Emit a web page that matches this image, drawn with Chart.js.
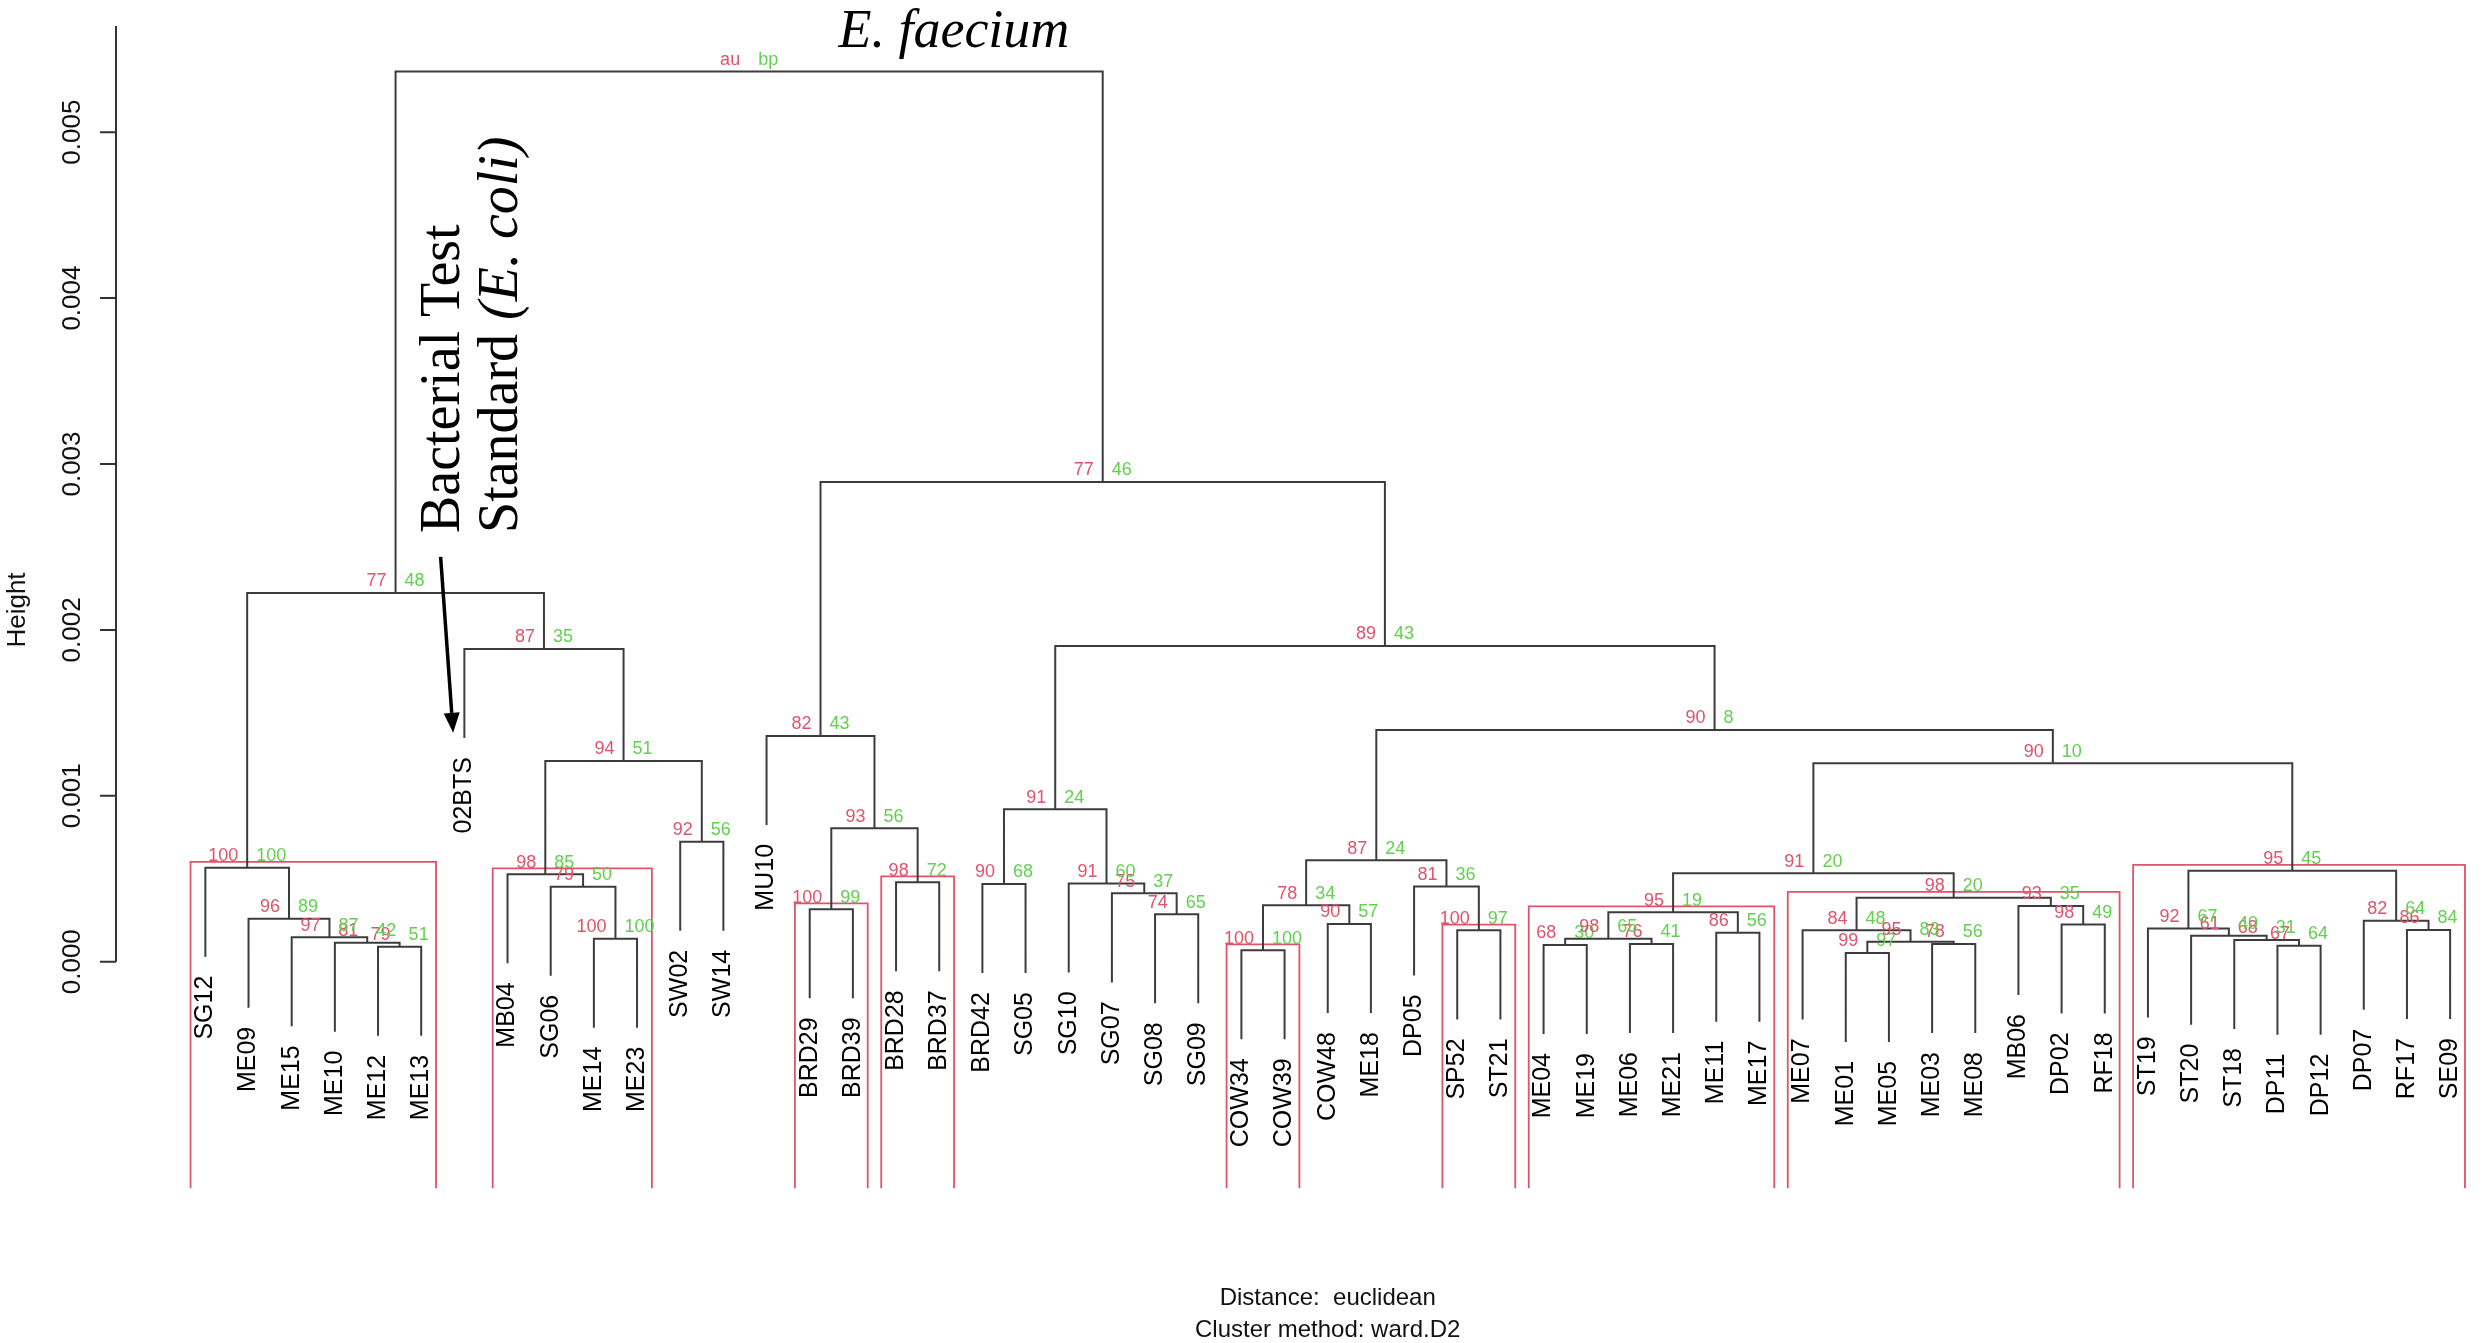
<!DOCTYPE html>
<html lang="en">
<head>
<meta charset="UTF-8">
<title>E. faecium dendrogram</title>
<style>
  html, body { margin: 0; padding: 0; background: #fff; }
</style>
</head>
<body>
<canvas id="myChart" width="2483" height="1343"></canvas>

<script src="https://cdn.jsdelivr.net/npm/chart.js"></script>
<script>
const ctx = document.getElementById('myChart');

// leaves, left to right
const leafNames = ['SG12','ME09','ME15','ME10','ME12','ME13','02BTS','MB04','SG06','ME14','ME23','SW02','SW14','MU10',
  'BRD29','BRD39','BRD28','BRD37','BRD42','SG05','SG10','SG07','SG08','SG09','COW34','COW39','COW48','ME18','DP05',
  'SP52','ST21','ME04','ME19','ME06','ME21','ME11','ME17','ME07','ME01','ME05','ME03','ME08','MB06','DP02','RF18',
  'ST19','ST20','ST18','DP11','DP12','DP07','RF17','SE09'];

// merges: a string is a leaf, a number points to an earlier merge
const merges = [
  ['ME12','ME13'], ['ME10',0], ['ME15',1], ['ME09',2], ['SG12',3],
  ['ME14','ME23'], ['SG06',5], ['MB04',6], ['SW02','SW14'], [7,8], ['02BTS',9], [4,10],
  ['BRD29','BRD39'], ['BRD28','BRD37'], [12,13], ['MU10',14],
  ['BRD42','SG05'], ['SG08','SG09'], ['SG07',17], ['SG10',18], [16,19],
  ['COW34','COW39'], ['COW48','ME18'], [21,22], ['SP52','ST21'], ['DP05',24], [23,25],
  ['ME04','ME19'], ['ME06','ME21'], [27,28], ['ME11','ME17'], [29,30],
  ['ME01','ME05'], ['ME03','ME08'], [32,33], ['ME07',34], ['DP02','RF18'], ['MB06',36], [35,37], [31,38],
  ['DP11','DP12'], ['ST18',40], ['ST20',41], ['ST19',42], ['RF17','SE09'], ['DP07',44], [43,45],
  [39,46], [26,47], [20,48], [15,49], [11,50]
];

// merge heights
const heights = [
  0.000090, 0.000115, 0.000147, 0.000259, 0.000567,
  0.000139, 0.000452, 0.000527, 0.000723, 0.001210, 0.001885, 0.002222,
  0.000316, 0.000479, 0.000804, 0.001361,
  0.000468, 0.000286, 0.000412, 0.000472, 0.000919,
  0.000069, 0.000227, 0.000340, 0.000189, 0.000454, 0.000611,
  0.000101, 0.000107, 0.000139, 0.000175, 0.000298,
  0.000053, 0.000107, 0.000121, 0.000189, 0.000225, 0.000336, 0.000386, 0.000533,
  0.000097, 0.000131, 0.000157, 0.000201, 0.000191, 0.000247, 0.000549,
  0.001196, 0.001397, 0.001903, 0.002891, 0.005366
];

// approximately unbiased p-values
const auValues = [
  79, 81, 97, 96, 100,
  100, 79, 98, 92, 94, 87, 77,
  100, 98, 93, 82,
  90, 74, 75, 91, 91,
  100, 90, 78, 100, 81, 87,
  68, 76, 98, 86, 95,
  99, 78, 95, 84, 98, 93, 98, 91,
  67, 68, 61, 92, 86, 82, 95,
  90, 90, 89, 77, 'au'
];

// bootstrap probabilities
const bpValues = [
  51, 42, 87, 89, 100,
  100, 50, 85, 56, 51, 35, 48,
  99, 72, 56, 43,
  68, 65, 37, 60, 24,
  100, 57, 34, 97, 36, 24,
  30, 41, 65, 56, 19,
  97, 56, 83, 48, 49, 35, 20, 20,
  64, 31, 40, 67, 84, 64, 45,
  10, 8, 43, 46, 'bp'
];

const yTicks = [0, 0.001, 0.002, 0.003, 0.004, 0.005];
const subTitle = ['Distance:  euclidean', 'Cluster method: ward.D2'];
const auAlpha = 95;

const xMin = -2.07, xMax = 52.53;
const yMin = -0.0014, yMax = 0.00564;

const RED = '#DF536B';
const GREEN = '#61D04F';
const SANS = '"Liberation Sans", Arial, sans-serif';
const SERIF = '"Liberation Serif", "Times New Roman", serif';

// ---- tree layout from the merges ----
const leafIndex = {};
leafNames.forEach((n, i) => { leafIndex[n] = i; });
const hang = 0.1 * Math.max(...heights);
const nodeX = [];
const members = [];
const leafEnd = [];
const edgePoints = [];

merges.forEach((m, k) => {
  const h = heights[k];
  const ends = m.map(c => {
    if (typeof c === 'string') {
      const i = leafIndex[c];
      leafEnd[i] = h - hang;
      return { x: i, y: h - hang, mem: [i] };
    }
    return { x: nodeX[c], y: heights[c], mem: members[c] };
  });
  nodeX[k] = (ends[0].x + ends[1].x) / 2;
  members[k] = ends[0].mem.concat(ends[1].mem);
  edgePoints.push(
    { x: ends[0].x, y: ends[0].y },
    { x: ends[0].x, y: h },
    { x: ends[1].x, y: h },
    { x: ends[1].x, y: ends[1].y },
    { x: ends[1].x, y: null }
  );
});

// pvrect-like boxes: highest clusters with au >= alpha
const rectPoints = [];
const covered = new Set();
const mx = (xMax - xMin) / leafNames.length / 3;
const my = (yMax - yMin) / 200;
for (let k = merges.length - 2; k >= 0; k--) {
  if (typeof auValues[k] === 'number' && auValues[k] >= auAlpha) {
    const mem = members[k];
    if (!mem.some(i => covered.has(i))) {
      const xl = Math.min(...mem) - mx, xr = Math.max(...mem) + mx;
      const yb = yMin + my, yt = heights[k] + my;
      rectPoints.push({ x: xl, y: yb }, { x: xl, y: yt }, { x: xr, y: yt }, { x: xr, y: yb }, { x: xr, y: null });
    }
    mem.forEach(i => covered.add(i));
  }
}

// annotations, in data units
const faeciumPos = { x: 17.34, y: 0.005513 };
const btsLine1 = { x: 5.88, y: 0.002584 };
const btsLine2 = { x: 7.21, y: 0.002584 };
const arrowFrom = { x: 5.45, y: 0.00244 };
const arrowTo = { x: 5.74, y: 0.00138 };

const dendroText = {
  id: 'dendroText',
  afterDatasetsDraw(chart) {
    const c = chart.ctx;
    const xs = chart.scales.x, ys = chart.scales.y;
    const area = chart.chartArea;
    c.save();

    // y axis, R style
    c.strokeStyle = '#333';
    c.lineWidth = 2;
    c.beginPath();
    c.moveTo(area.left, ys.getPixelForValue(0));
    c.lineTo(area.left, ys.getPixelForValue(yMax));
    yTicks.forEach(t => {
      const py = ys.getPixelForValue(t);
      c.moveTo(area.left, py);
      c.lineTo(area.left - 16, py);
    });
    c.stroke();
    c.fillStyle = '#111';
    c.font = '26px ' + SANS;
    c.textAlign = 'center';
    c.textBaseline = 'middle';
    yTicks.forEach(t => {
      c.save();
      c.translate(area.left - 43, ys.getPixelForValue(t));
      c.rotate(-Math.PI / 2);
      c.fillText(t.toFixed(3), 0, 0);
      c.restore();
    });

    // leaf labels
    c.fillStyle = '#000';
    c.font = '25px ' + SANS;
    c.textAlign = 'right';
    leafNames.forEach((n, i) => {
      c.save();
      c.translate(xs.getPixelForValue(i), ys.getPixelForValue(leafEnd[i]) + 19);
      c.rotate(-Math.PI / 2);
      c.fillText(n, 0, 0);
      c.restore();
    });

    // au / bp values
    const float = 0.01 * (yMax - yMin);
    c.font = '18px ' + SANS;
    merges.forEach((m, k) => {
      const px = xs.getPixelForValue(nodeX[k]);
      const py = ys.getPixelForValue(heights[k] + float);
      c.fillStyle = RED;
      c.textAlign = 'right';
      c.fillText(String(auValues[k]), px - 9, py);
      c.fillStyle = GREEN;
      c.textAlign = 'left';
      c.fillText(String(bpValues[k]), px + 9, py);
    });

    // sub title
    c.fillStyle = '#111';
    c.font = '24px ' + SANS;
    c.textAlign = 'center';
    const cx = xs.getPixelForValue((leafNames.length - 1) / 2);
    c.fillText(subTitle[0], cx, area.bottom + 104);
    c.fillText(subTitle[1], cx, area.bottom + 136);

    // annotations
    c.fillStyle = '#000';
    c.textBaseline = 'alphabetic';
    c.font = 'italic 54px ' + SERIF;
    c.textAlign = 'center';
    c.fillText('E. faecium', xs.getPixelForValue(faeciumPos.x), ys.getPixelForValue(faeciumPos.y));

    c.textAlign = 'left';
    c.save();
    c.translate(xs.getPixelForValue(btsLine1.x), ys.getPixelForValue(btsLine1.y));
    c.rotate(-Math.PI / 2);
    c.font = '56px ' + SERIF;
    c.fillText('Bacterial Test', 0, 0);
    c.restore();

    c.save();
    c.translate(xs.getPixelForValue(btsLine2.x), ys.getPixelForValue(btsLine2.y));
    c.rotate(-Math.PI / 2);
    c.font = '56px ' + SERIF;
    c.fillText('Standard ', 0, 0);
    const w = c.measureText('Standard ').width;
    c.font = 'italic 56px ' + SERIF;
    c.fillText('(E. coli)', w, 0);
    c.restore();

    // arrow to 02BTS
    const ax0 = xs.getPixelForValue(arrowFrom.x), ay0 = ys.getPixelForValue(arrowFrom.y);
    const ax1 = xs.getPixelForValue(arrowTo.x), ay1 = ys.getPixelForValue(arrowTo.y);
    const ang = Math.atan2(ay1 - ay0, ax1 - ax0);
    const headLen = 20, headW = 8;
    c.strokeStyle = '#000';
    c.lineWidth = 3.5;
    c.beginPath();
    c.moveTo(ax0, ay0);
    c.lineTo(ax1 - headLen * Math.cos(ang), ay1 - headLen * Math.sin(ang));
    c.stroke();
    c.beginPath();
    c.moveTo(ax1, ay1);
    c.lineTo(ax1 - headLen * Math.cos(ang) + headW * Math.sin(ang), ay1 - headLen * Math.sin(ang) - headW * Math.cos(ang));
    c.lineTo(ax1 - headLen * Math.cos(ang) - headW * Math.sin(ang), ay1 - headLen * Math.sin(ang) + headW * Math.cos(ang));
    c.closePath();
    c.fill();

    c.restore();
  }
};

new Chart(ctx, {
  type: 'line',
  data: {
    datasets: [
      {
        label: 'edges',
        data: edgePoints,
        borderColor: '#3c3c3c',
        borderWidth: 2,
        pointRadius: 0,
        tension: 0,
        spanGaps: false,
        fill: false
      },
      {
        label: 'au >= 95',
        data: rectPoints,
        borderColor: RED,
        borderWidth: 1.8,
        pointRadius: 0,
        tension: 0,
        spanGaps: false,
        fill: false
      }
    ]
  },
  options: {
    responsive: false,
    animation: false,
    devicePixelRatio: 1,
    layout: { padding: { top: 26, right: 10, bottom: 149, left: 0 } },
    plugins: {
      legend: { display: false },
      tooltip: { enabled: false }
    },
    scales: {
      x: {
        type: 'linear',
        min: xMin,
        max: xMax,
        display: false
      },
      y: {
        type: 'linear',
        min: yMin,
        max: yMax,
        grid: { display: false },
        border: { display: false },
        ticks: { display: false },
        title: {
          display: true,
          text: 'Height',
          color: '#111',
          font: { family: SANS, size: 26 },
          padding: { top: 2, bottom: 0 }
        },
        afterFit: s => { s.width = 116; }
      }
    }
  },
  plugins: [dendroText]
});
</script>
</body>
</html>
